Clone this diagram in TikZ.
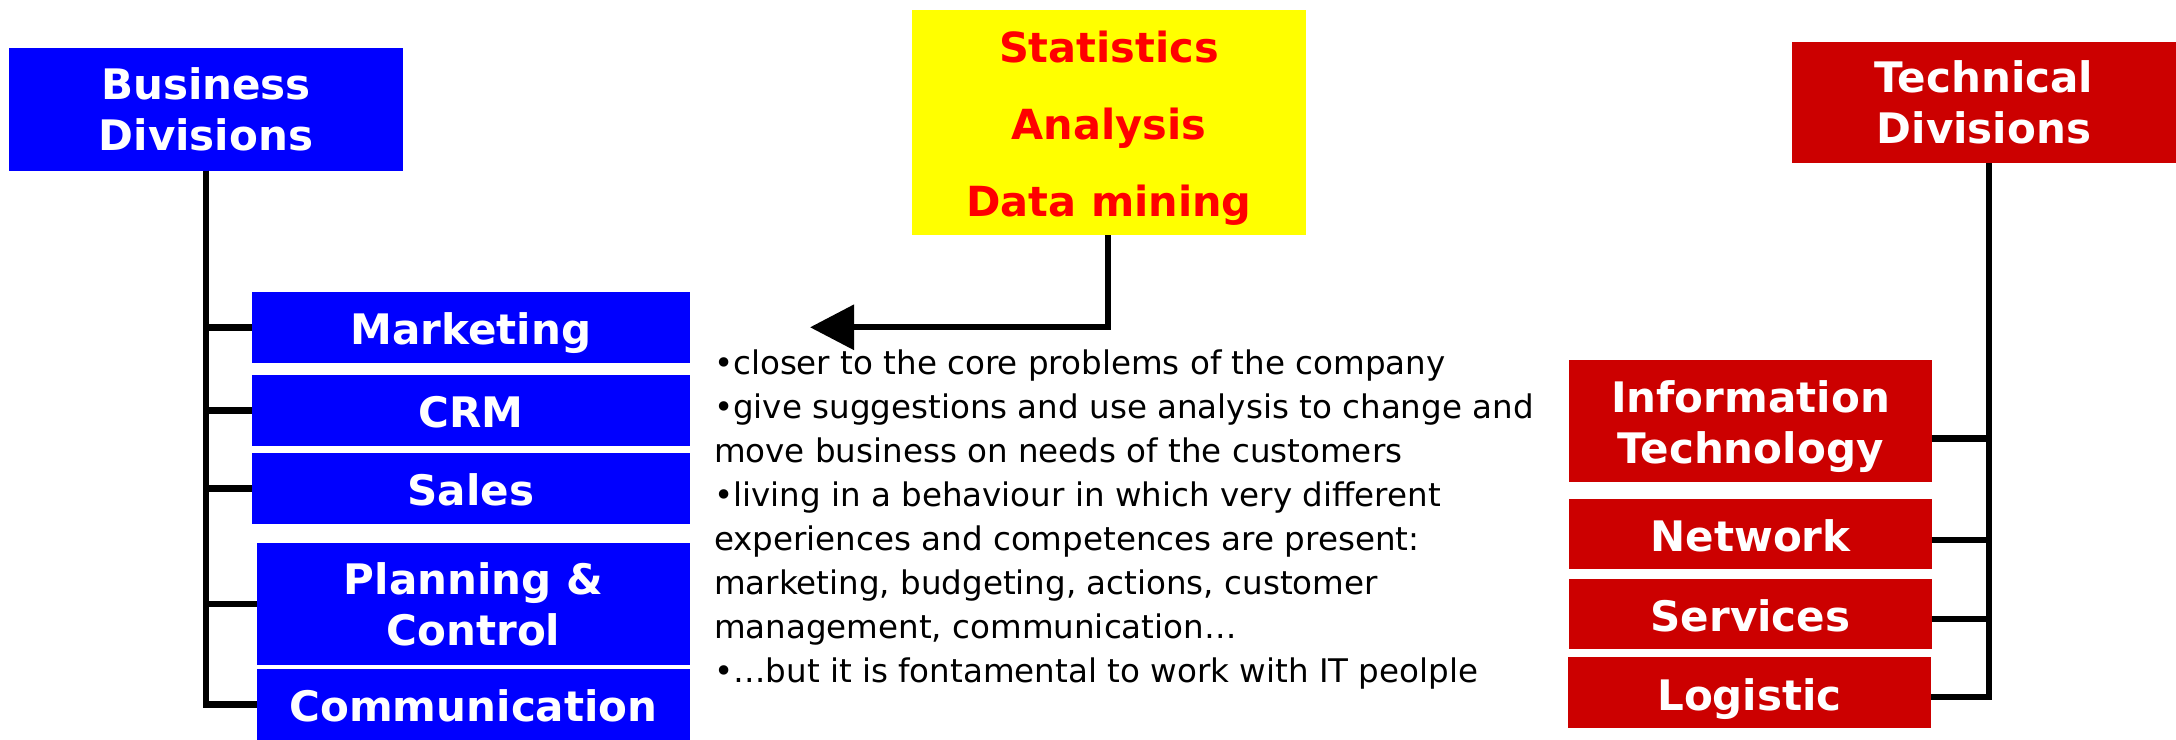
\documentclass[tikz,border=0pt]{standalone}
\usepackage{fontspec}
\setmainfont{DejaVu Sans}
\usetikzlibrary{arrows.meta,calc}
\definecolor{bizblue}{RGB}{0,0,255}
\definecolor{techred}{RGB}{204,0,0}
\definecolor{toolyellow}{RGB}{255,255,0}
\definecolor{tooltext}{RGB}{255,0,0}
\tikzset{
  unit/.style={rectangle, inner sep=0pt, outer sep=0pt, text=white,
    font=\fontsize{11.95pt}{14.5pt}\selectfont\bfseries, align=center},
  oneline/.style={text height=9.8pt, text depth=0pt},
  bizbox/.style={unit, fill=bizblue},
  techbox/.style={unit, fill=techred},
  toolbox/.style={rectangle, inner sep=0pt, outer sep=0pt, fill=toolyellow,
    text=tooltext, font=\fontsize{11.8pt}{21.9pt}\selectfont\bfseries, align=center},
  notes/.style={inner sep=0pt, outer sep=0pt, align=left,
    font=\fontsize{9.25pt}{12.52pt}\selectfont},
  conn/.style={draw=black, line width=1.8pt},
}
\begin{document}
\begin{tikzpicture}[x=0.01cm,y=-0.01cm]
\useasboundingbox (0,0) rectangle (2176,740);

% business side
\node[bizbox, minimum width=3.94cm, minimum height=1.227cm] (biz) at (206,109.35) {Business\\Divisions};
\node[bizbox, oneline, minimum width=4.38cm, minimum height=0.707cm] (mkt) at (471,327.35) {Marketing};
\node[bizbox, oneline, minimum width=4.38cm, minimum height=0.707cm] (crm) at (471,410.35) {CRM};
\node[bizbox, oneline, minimum width=4.38cm, minimum height=0.707cm] (sal) at (471,488.35) {Sales};
\node[bizbox, minimum width=4.33cm, minimum height=1.22cm] (plc) at (473.5,604) {Planning \&\\Control};
\node[bizbox, oneline, minimum width=4.33cm, minimum height=0.71cm] (com) at (473.5,704.5) {Communication};

\foreach \child in {mkt,crm,sal,plc,com}
  \draw[conn] (biz.south) |- (\child.west);

% analysis tools
\node[toolbox, minimum width=3.94cm, minimum height=2.25cm] (tools) at (1109,122.5)
  {\rule{0pt}{12.4pt}Statistics\\Analysis\\Data mining};
\coordinate (tip) at (810,327.3);
\draw[conn, -{Triangle[length=0.44cm, width=0.44cm]}] ($(tools.south)+(-1,0)$) |- (tip);

\node[notes, anchor=north west] (txt) at (714,350) {%
•closer to the core problems of the company\\
•give suggestions and use analysis to change and\\
move business on needs of the customers\\
•living in a behaviour in which very different\\
experiences and competences are present:\\
marketing, budgeting, actions, customer\\
management, communication…\\
•…but it is fontamental to work with IT peolple};

% technical side
\node[techbox, minimum width=3.84cm, minimum height=1.216cm] (tech) at (1984,102.5) {Technical\\Divisions};
\node[techbox, minimum width=3.63cm, minimum height=1.217cm] (it) at (1750.5,420.85) {\rule{0pt}{12.2pt}Information\\Technology};
\node[techbox, oneline, minimum width=3.63cm, minimum height=0.70cm] (net) at (1750.5,534.3) {Network};
\node[techbox, oneline, minimum width=3.63cm, minimum height=0.703cm] (srv) at (1750.5,614.15) {Services};
\node[techbox, oneline, minimum width=3.63cm, minimum height=0.71cm] (lgs) at (1749.5,692.8) {Logistic};

\draw[conn] ($(tech.south)+(5,0)$) |- ($(it.east)+(0,17.5)$);
\draw[conn] ($(tech.south)+(5,0)$) |- ($(net.east)+(0,5.7)$);
\draw[conn] ($(tech.south)+(5,0)$) |- ($(srv.east)+(0,5)$);
\draw[conn] ($(tech.south)+(5,0)$) |- ($(lgs.east)+(0,4)$);
\end{tikzpicture}
\end{document}
